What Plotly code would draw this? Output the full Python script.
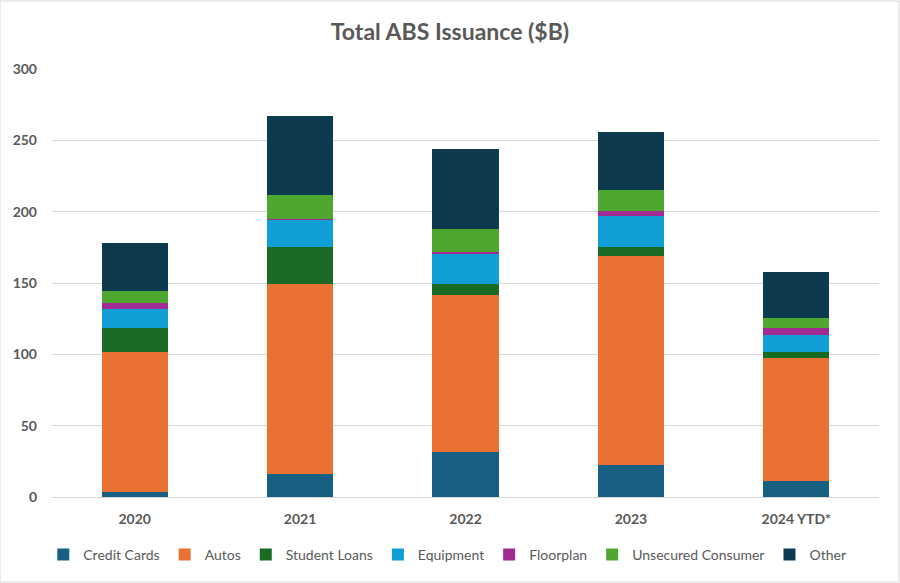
import plotly.graph_objects as go

years = ["2020", "2021", "2022", "2023", "2024 YTD*"]
credit_cards = [3.5, 16.4, 31.6, 22.2, 11.0]
autos = [98.1, 132.9, 110.2, 146.7, 86.1]
student_loans = [17.0, 26.0, 7.3, 6.6, 4.3]
equipment = [13.4, 19.4, 21.7, 21.3, 11.9]
floorplan = [4.2, 0.5, 1.0, 3.9, 4.9]
unsecured = [8.4, 16.6, 16.1, 14.6, 7.4]
other = [33.7, 55.4, 56.2, 40.5, 32.3]

series = [
    ("Credit Cards", credit_cards, "#176083"),
    ("Autos", autos, "#E97132"),
    ("Student Loans", student_loans, "#196B24"),
    ("Equipment", equipment, "#0F9ED5"),
    ("Floorplan", floorplan, "#A02B93"),
    ("Unsecured Consumer", unsecured, "#4EA72E"),
    ("Other", other, "#0E3A50"),
]

fig = go.Figure()
for name, vals, col in series:
    fig.add_trace(go.Bar(x=years, y=vals, name=name,
                         marker=dict(color=col, line=dict(width=0))))

FONT = "Lato"
GRAY = "#595959"
fig.update_layout(
    barmode="stack",
    bargap=0.6,
    width=900, height=583,
    paper_bgcolor="white", plot_bgcolor="white",
    margin=dict(l=52, r=21, t=69, b=86),
    font=dict(family=FONT, color=GRAY, size=14),
    title=dict(text="<b>Total ABS Issuance ($B)</b>", x=0.5, xanchor="center",
               y=0.945, yanchor="middle",
               font=dict(family=FONT, size=23, color=GRAY)),
    legend=dict(orientation="h", x=0.478, xanchor="center", y=-0.135, yanchor="middle",
                font=dict(family=FONT, size=14, color=GRAY),
                traceorder="normal", itemwidth=30),
    yaxis=dict(range=[0, 300], dtick=50, showgrid=True, gridcolor="#D9D9D9",
               gridwidth=1, zeroline=False, showline=False,
               tickfont=dict(family=FONT, size=14, color=GRAY),
               ticklabelstandoff=14),
    xaxis=dict(showline=True, linecolor="#D9D9D9", linewidth=1,
               tickfont=dict(family=FONT, size=14, color=GRAY),
               ticklabelstandoff=9),
    shapes=[dict(type="rect", xref="paper", yref="paper",
                 x0=-52/827, x1=1+20/827, y0=-85/428, y1=1+68/428,
                 line=dict(color="#D9D9D9", width=1))],
)
fig.update_layout(xaxis_tickprefix="<b>", xaxis_ticksuffix="</b>",
                  yaxis_tickprefix="<b>", yaxis_ticksuffix="</b>")

fig.write_html("out.html", config={"displayModeBar": False},
               post_script="document.body.style.margin='0';document.body.style.padding='0';")
